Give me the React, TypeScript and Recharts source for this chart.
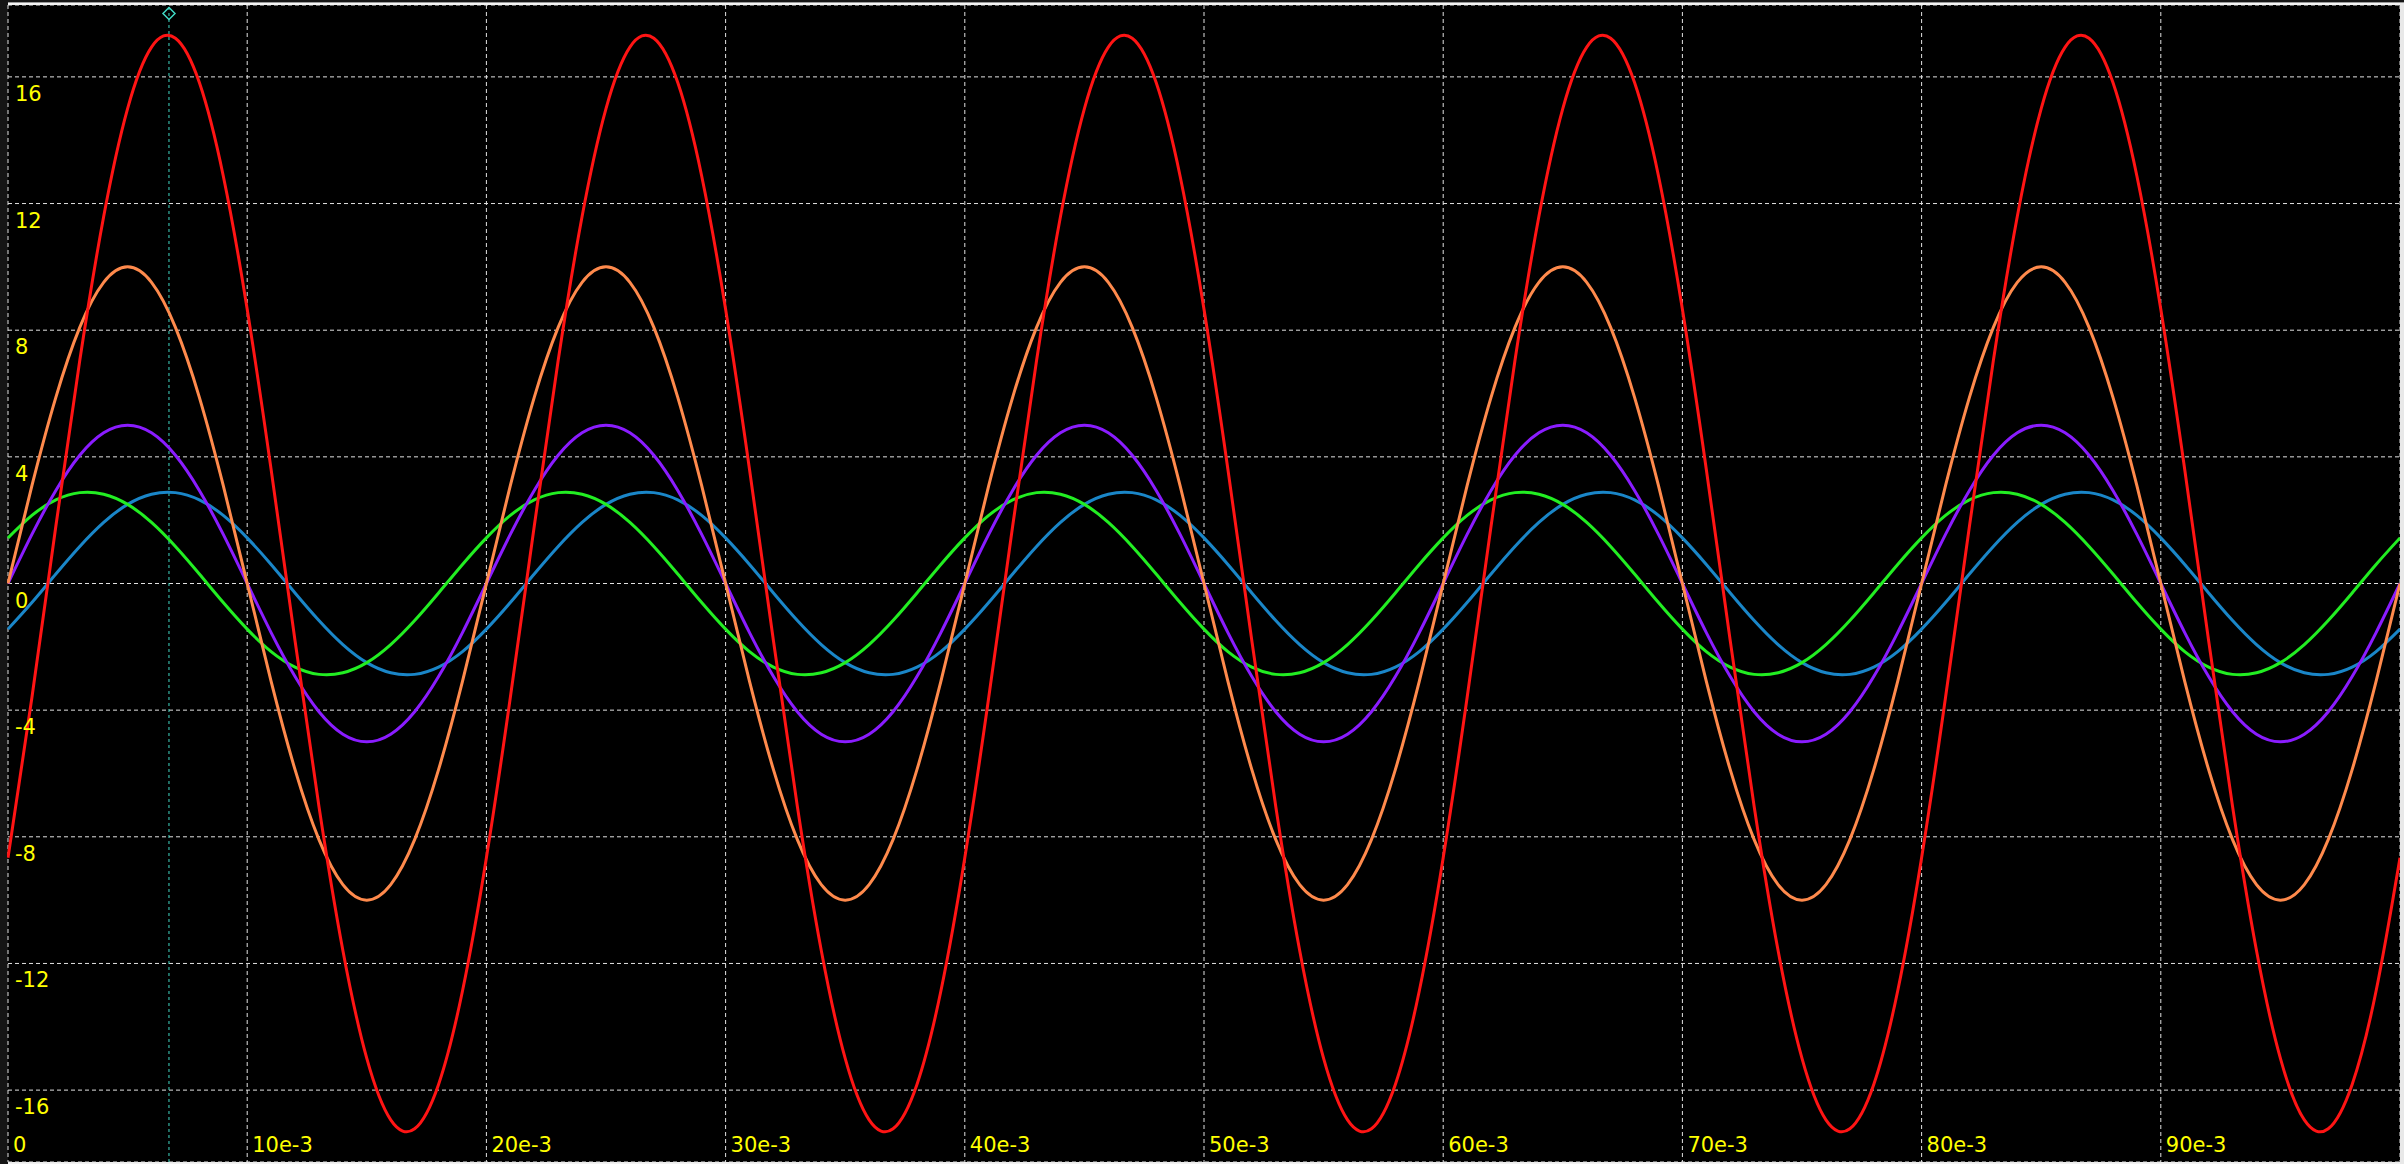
import React from "react";
import {
  LineChart,
  Line,
  XAxis,
  YAxis,
  CartesianGrid,
  ReferenceLine,
  ReferenceDot,
} from "recharts";

// sample times in milliseconds (one sample per ms, 0..100 ms)
const timeMs = [
  0, 1, 2, 3, 4, 5, 6, 7, 8, 9, 10, 11, 12, 13, 14, 15, 16, 17, 18, 19,
  20, 21, 22, 23, 24, 25, 26, 27, 28, 29, 30, 31, 32, 33, 34, 35, 36, 37, 38, 39,
  40, 41, 42, 43, 44, 45, 46, 47, 48, 49, 50, 51, 52, 53, 54, 55, 56, 57, 58, 59,
  60, 61, 62, 63, 64, 65, 66, 67, 68, 69, 70, 71, 72, 73, 74, 75, 76, 77, 78, 79,
  80, 81, 82, 83, 84, 85, 86, 87, 88, 89, 90, 91, 92, 93, 94, 95, 96, 97, 98, 99,
  100,
];

const redValues = [
  -8.66, -3.6, 1.81, 7.04, 11.59, 15, 16.94, 17.22, 15.82, 12.87, 8.66, 3.6, -1.81, -7.04, -11.59, -15, -16.94, -17.22, -15.82, -12.87,
  -8.66, -3.6, 1.81, 7.04, 11.59, 15, 16.94, 17.22, 15.82, 12.87, 8.66, 3.6, -1.81, -7.04, -11.59, -15, -16.94, -17.22, -15.82, -12.87,
  -8.66, -3.6, 1.81, 7.04, 11.59, 15, 16.94, 17.22, 15.82, 12.87, 8.66, 3.6, -1.81, -7.04, -11.59, -15, -16.94, -17.22, -15.82, -12.87,
  -8.66, -3.6, 1.81, 7.04, 11.59, 15, 16.94, 17.22, 15.82, 12.87, 8.66, 3.6, -1.81, -7.04, -11.59, -15, -16.94, -17.22, -15.82, -12.87,
  -8.66, -3.6, 1.81, 7.04, 11.59, 15, 16.94, 17.22, 15.82, 12.87, 8.66, 3.6, -1.81, -7.04, -11.59, -15, -16.94, -17.22, -15.82, -12.87,
  -8.66,
];

const orangeValues = [
  0, 3.09, 5.88, 8.09, 9.51, 10, 9.51, 8.09, 5.88, 3.09, 0, -3.09, -5.88, -8.09, -9.51, -10, -9.51, -8.09, -5.88, -3.09,
  0, 3.09, 5.88, 8.09, 9.51, 10, 9.51, 8.09, 5.88, 3.09, 0, -3.09, -5.88, -8.09, -9.51, -10, -9.51, -8.09, -5.88, -3.09,
  0, 3.09, 5.88, 8.09, 9.51, 10, 9.51, 8.09, 5.88, 3.09, 0, -3.09, -5.88, -8.09, -9.51, -10, -9.51, -8.09, -5.88, -3.09,
  0, 3.09, 5.88, 8.09, 9.51, 10, 9.51, 8.09, 5.88, 3.09, 0, -3.09, -5.88, -8.09, -9.51, -10, -9.51, -8.09, -5.88, -3.09,
  0, 3.09, 5.88, 8.09, 9.51, 10, 9.51, 8.09, 5.88, 3.09, 0, -3.09, -5.88, -8.09, -9.51, -10, -9.51, -8.09, -5.88, -3.09,
  0,
];

const purpleValues = [
  0, 1.55, 2.94, 4.05, 4.76, 5, 4.76, 4.05, 2.94, 1.55, 0, -1.55, -2.94, -4.05, -4.76, -5, -4.76, -4.05, -2.94, -1.55,
  0, 1.55, 2.94, 4.05, 4.76, 5, 4.76, 4.05, 2.94, 1.55, 0, -1.55, -2.94, -4.05, -4.76, -5, -4.76, -4.05, -2.94, -1.55,
  0, 1.55, 2.94, 4.05, 4.76, 5, 4.76, 4.05, 2.94, 1.55, 0, -1.55, -2.94, -4.05, -4.76, -5, -4.76, -4.05, -2.94, -1.55,
  0, 1.55, 2.94, 4.05, 4.76, 5, 4.76, 4.05, 2.94, 1.55, 0, -1.55, -2.94, -4.05, -4.76, -5, -4.76, -4.05, -2.94, -1.55,
  0, 1.55, 2.94, 4.05, 4.76, 5, 4.76, 4.05, 2.94, 1.55, 0, -1.55, -2.94, -4.05, -4.76, -5, -4.76, -4.05, -2.94, -1.55,
  0,
];

const greenValues = [
  1.44, 2.15, 2.64, 2.87, 2.82, 2.5, 1.93, 1.17, 0.3, -0.6, -1.44, -2.15, -2.64, -2.87, -2.82, -2.5, -1.93, -1.17, -0.3, 0.6,
  1.44, 2.15, 2.64, 2.87, 2.82, 2.5, 1.93, 1.17, 0.3, -0.6, -1.44, -2.15, -2.64, -2.87, -2.82, -2.5, -1.93, -1.17, -0.3, 0.6,
  1.44, 2.15, 2.64, 2.87, 2.82, 2.5, 1.93, 1.17, 0.3, -0.6, -1.44, -2.15, -2.64, -2.87, -2.82, -2.5, -1.93, -1.17, -0.3, 0.6,
  1.44, 2.15, 2.64, 2.87, 2.82, 2.5, 1.93, 1.17, 0.3, -0.6, -1.44, -2.15, -2.64, -2.87, -2.82, -2.5, -1.93, -1.17, -0.3, 0.6,
  1.44, 2.15, 2.64, 2.87, 2.82, 2.5, 1.93, 1.17, 0.3, -0.6, -1.44, -2.15, -2.64, -2.87, -2.82, -2.5, -1.93, -1.17, -0.3, 0.6,
  1.44,
];

const blueValues = [
  -1.44, -0.6, 0.3, 1.17, 1.93, 2.5, 2.82, 2.87, 2.64, 2.15, 1.44, 0.6, -0.3, -1.17, -1.93, -2.5, -2.82, -2.87, -2.64, -2.15,
  -1.44, -0.6, 0.3, 1.17, 1.93, 2.5, 2.82, 2.87, 2.64, 2.15, 1.44, 0.6, -0.3, -1.17, -1.93, -2.5, -2.82, -2.87, -2.64, -2.15,
  -1.44, -0.6, 0.3, 1.17, 1.93, 2.5, 2.82, 2.87, 2.64, 2.15, 1.44, 0.6, -0.3, -1.17, -1.93, -2.5, -2.82, -2.87, -2.64, -2.15,
  -1.44, -0.6, 0.3, 1.17, 1.93, 2.5, 2.82, 2.87, 2.64, 2.15, 1.44, 0.6, -0.3, -1.17, -1.93, -2.5, -2.82, -2.87, -2.64, -2.15,
  -1.44, -0.6, 0.3, 1.17, 1.93, 2.5, 2.82, 2.87, 2.64, 2.15, 1.44, 0.6, -0.3, -1.17, -1.93, -2.5, -2.82, -2.87, -2.64, -2.15,
  -1.44,
];

const xTicks = [0, 0.01, 0.02, 0.03, 0.04, 0.05, 0.06, 0.07, 0.08, 0.09];
const xTickLabels = ["0", "10e-3", "20e-3", "30e-3", "40e-3", "50e-3", "60e-3", "70e-3", "80e-3", "90e-3"];
const yTicks = [16, 12, 8, 4, 0, -4, -8, -12, -16];
const yTickLabels = ["16", "12", "8", "4", "0", "-4", "-8", "-12", "-16"];

const cursorTime = 0.00673;
const cursorMarkerValue = 18.0;

const data = timeMs.map((ms, i) => ({
  t: ms / 1000,
  red: redValues[i],
  orange: orangeValues[i],
  purple: purpleValues[i],
  green: greenValues[i],
  blue: blueValues[i],
}));

const FONT = "'DejaVu Sans', Verdana, sans-serif";
const YELLOW = "#ffff00";

// x labels sit inside the plot, just above its bottom edge
const XTick = (props: any) => {
  const { x, y, payload } = props;
  const label = xTickLabels[xTicks.indexOf(payload.value)];
  return (
    <text x={x + 5} y={y - 10} fill={YELLOW} fontSize={21} fontFamily={FONT} textAnchor="start">
      {label}
    </text>
  );
};

// y labels sit inside the plot, under their grid line
const YTick = (props: any) => {
  const { x, y, payload } = props;
  const label = yTickLabels[yTicks.indexOf(payload.value)];
  return (
    <text x={x + 7} y={y + 24} fill={YELLOW} fontSize={21} fontFamily={FONT} textAnchor="start">
      {label}
    </text>
  );
};

const Diamond = (props: any) => {
  const { cx, cy } = props;
  const r = 6;
  return (
    <polygon
      points={`${cx},${cy - r} ${cx + r},${cy} ${cx},${cy + r} ${cx - r},${cy}`}
      fill="none"
      stroke="#40d8c4"
      strokeWidth={1.5}
    />
  );
};

const App = () => {
  return (
    <div style={{ position: "absolute", left: 0, top: 0, width: 2404, height: 1164, background: "#151515" }}>
      <div style={{ position: "absolute", left: 8, top: 2, width: 2396, height: 1, background: "#9a9a9a" }} />
      <div style={{ position: "absolute", left: 8, top: 3, width: 2396, height: 2, background: "#f4f4f4" }} />
      <div style={{ position: "absolute", left: 8, top: 1162, width: 2396, height: 2, background: "#f0f0f0" }} />
      <div style={{ position: "absolute", left: 2400, top: 3, width: 4, height: 1161, background: "#e8e8e8" }} />
      <div style={{ position: "absolute", left: 8, top: 5, width: 2392, height: 1157, background: "#000" }} />
      <div style={{ position: "absolute", left: 7, top: 5, width: 2393, height: 1158 }}>
        <LineChart width={2393} height={1158} data={data} margin={{ top: 0, right: 0, bottom: 0, left: 0 }}>
          <CartesianGrid stroke="#e2e2e2" strokeDasharray="4 3" strokeWidth={1} />
          <XAxis
            dataKey="t"
            type="number"
            domain={[0, 0.1]}
            ticks={xTicks}
            height={1}
            axisLine={false}
            tickLine={false}
            tickSize={0}
            tickMargin={0}
            tick={<XTick />}
            interval={0}
          />
          <YAxis
            type="number"
            domain={[-18.27, 18.27]}
            ticks={yTicks}
            width={1}
            axisLine={false}
            tickLine={false}
            tickSize={0}
            tickMargin={0}
            tick={<YTick />}
            interval={0}
          />
          <ReferenceLine x={cursorTime} stroke="#40d8c4" strokeDasharray="3 3" strokeWidth={1} />
          <ReferenceDot x={cursorTime} y={cursorMarkerValue} shape={<Diamond />} />
          <Line type="natural" dataKey="blue" stroke="#1a86c8" strokeWidth={3} dot={false} isAnimationActive={false} />
          <Line type="natural" dataKey="green" stroke="#22ee22" strokeWidth={3} dot={false} isAnimationActive={false} />
          <Line type="natural" dataKey="purple" stroke="#8a1cff" strokeWidth={3} dot={false} isAnimationActive={false} />
          <Line type="natural" dataKey="orange" stroke="#ff8a4c" strokeWidth={3} dot={false} isAnimationActive={false} />
          <Line type="natural" dataKey="red" stroke="#ff1414" strokeWidth={3} dot={false} isAnimationActive={false} />
        </LineChart>
      </div>
    </div>
  );
};

export default App;
